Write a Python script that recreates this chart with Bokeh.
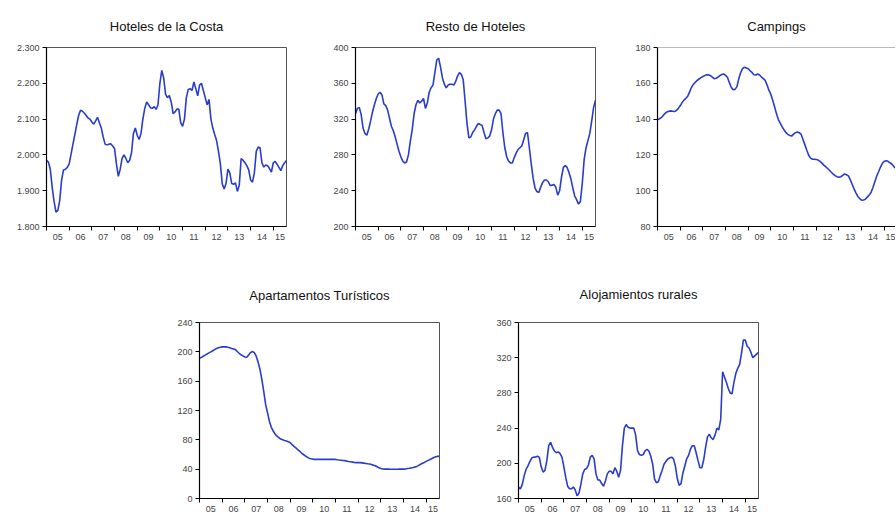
from bokeh.plotting import figure
from bokeh.layouts import column, row, Spacer
from bokeh.models import FixedTicker, Range1d, Span
from bokeh.embed import file_html
from bokeh.resources import INLINE

# ---------------- data (monthly, 2005-01 .. 2015-08) ----------------
start_year = 2005
year_ticks = [2005, 2006, 2007, 2008, 2009, 2010, 2011, 2012, 2013, 2014, 2015]
year_labels = ["05", "06", "07", "08", "09", "10", "11", "12", "13", "14", "15"]
label_pos = [2005.5, 2006.5, 2007.5, 2008.5, 2009.5, 2010.5, 2011.5, 2012.5,
             2013.5, 2014.5, 2015.3]

hoteles_costa = [
    1985, 1980, 1960, 1910, 1870, 1840, 1845, 1873, 1930, 1958, 1960, 1965,
    1975, 2002, 2030, 2057, 2085, 2110, 2125, 2122, 2117, 2110, 2103, 2100,
    2092, 2086, 2095, 2105, 2090, 2075, 2050, 2030, 2028, 2030, 2031, 2025,
    2018, 1975, 1940, 1960, 1990, 2000, 1990, 1978, 1985, 2006, 2060, 2075,
    2055, 2043, 2060, 2100, 2130, 2148, 2140, 2132, 2130, 2135, 2127, 2140,
    2200, 2236, 2215, 2170, 2160, 2166, 2148, 2115, 2120, 2128, 2128, 2090,
    2080, 2100, 2160, 2183, 2185, 2180, 2204, 2185, 2165, 2195, 2200, 2180,
    2160, 2140, 2155, 2100, 2075, 2057, 2040, 2010, 1975, 1919, 1905, 1920,
    1960, 1950, 1920, 1918, 1922, 1898, 1915, 1990, 1985, 1978, 1970, 1958,
    1930, 1924, 1950, 2010, 2022, 2020, 1978, 1966, 1972, 1970, 1962, 1952,
    1978, 1982, 1974, 1965, 1956, 1970, 1978, 1984]

resto_hoteles = [
    326, 332, 333, 325, 310, 304, 302, 309, 318, 328, 336, 343,
    348, 350, 347, 337, 335, 330, 321, 312, 307, 300, 292, 284,
    278, 273, 271, 272, 280, 295, 308, 326, 336, 341, 338, 340,
    343, 332, 338, 350, 355, 358, 372, 386, 388, 378, 366, 359,
    355, 358, 359, 359, 358, 362, 368, 372, 370, 364, 340, 315,
    299, 300, 305, 308, 312, 315, 314, 313, 305, 298, 299, 301,
    308, 320, 326, 330, 330, 326, 305, 288, 278, 273, 271, 271,
    277, 282, 286, 288, 290, 297, 304, 305, 288, 270, 254, 243,
    239, 238, 244, 249, 252, 252, 250, 246, 246, 247, 244, 235,
    240, 255, 266, 268, 266, 260, 253, 243, 234, 230, 225, 228,
    248, 275, 288, 296, 304, 318, 333, 341]

campings = [
    139.6, 140.2, 140.8, 142.0, 143.2, 144.0, 144.4, 144.6, 144.4, 144.2, 144.8, 146.0,
    147.4, 149.2, 150.6, 151.6, 152.8, 155.2, 157.8, 159.4, 160.6, 161.6, 162.4, 163.2,
    163.8, 164.3, 164.8, 164.7, 164.3, 163.4, 162.6, 162.8, 163.4, 164.3, 164.9, 165.2,
    164.4, 163.4, 160.5, 157.8, 156.4, 156.6, 158.0, 162.5, 166.0, 168.2, 169.0, 168.6,
    168.1, 167.0, 166.1, 164.8, 164.6, 165.2, 164.6, 163.5, 162.6, 161.6, 159.0, 156.0,
    153.8, 150.4, 146.8, 142.8, 139.6, 137.6, 135.6, 134.0, 132.4, 131.4, 130.9, 130.5,
    131.6, 132.4, 132.8, 132.4, 131.5, 128.6, 125.6, 122.6, 119.8, 118.2, 117.6, 117.6,
    117.4, 117.1, 116.4, 115.4, 114.3, 113.4, 112.4, 111.4, 110.3, 109.3, 108.4, 107.8,
    107.5, 107.8, 108.6, 109.4, 108.9, 108.3, 106.2, 103.6, 101.0, 98.8, 96.8, 95.6,
    94.7, 94.8, 95.2, 96.4, 97.6, 99.0, 101.8, 105.0, 108.2, 110.6, 113.2, 115.3,
    116.5, 116.7, 116.4, 115.6, 114.9, 113.6, 112.6, 112.0]

apartamentos = [
    191, 192.5, 194, 195.5, 197, 198.5, 200, 201.5, 203, 204.5, 205.5, 206.3,
    206.8, 207, 206.8, 206.2, 205.5, 204.6, 203.8, 203, 200.5, 198, 196, 194.5,
    193, 192.5, 195.5, 199, 200.5, 199, 194, 186, 176, 162, 146, 128,
    117, 105, 97, 92, 88, 85, 83, 81, 80, 79, 78.5, 77.5,
    76, 73.5, 71, 69, 66.5, 64.5, 62, 60, 58, 56.5, 55, 54.3,
    53.7, 53.3, 53.3, 53.3, 53.3, 53.3, 53.3, 53.3, 53.3, 53.3, 53.3, 53.3,
    53.3, 52.8, 52.4, 52.1, 51.8, 51.6, 51.0, 50.5, 50.1, 49.6, 49.1, 48.9,
    48.9, 48.9, 48.6, 48.2, 47.8, 47.4, 47.1, 46.3, 45.5, 44.6, 43.2, 41.8,
    40.8, 40.3, 40.0, 40.0, 40.0, 39.8, 39.8, 39.8, 39.8, 39.9, 40.0, 40.0,
    40.0, 40.3, 40.8, 41.2, 41.7, 42.2, 42.8, 43.8, 45.2, 46.6, 48.0, 49.2,
    50.6, 52.0, 53.3, 54.6, 56.0, 56.9, 57.4, 57.8]

rurales = [
    173, 171, 176, 186, 193, 197, 202, 206, 207, 207, 208, 207,
    196, 190, 192, 203, 220, 224, 218, 214, 212, 213, 211, 207,
    196, 184, 174, 171, 171, 173, 170, 163, 166, 176, 188, 193,
    194, 198, 207, 209, 205, 188, 181, 181, 177, 174, 180, 188,
    191, 191, 188, 195, 191, 184, 192, 220, 240, 244, 241, 240,
    240, 240, 232, 214, 210, 209, 210, 214, 216, 214, 208, 199,
    182, 178, 179, 186, 192, 199, 202, 205, 206, 207, 205, 197,
    183, 175, 177, 189, 197, 205, 209, 216, 220, 220, 212, 203,
    195, 195, 204, 218, 230, 233, 229, 227, 232, 240, 238, 250,
    304, 298, 292, 285, 280, 279, 292, 302, 308, 312, 325, 340,
    340, 333, 331, 326, 320, 322, 324, 326]

costa_ticks = [1800, 1900, 2000, 2100, 2200, 2300]
costa_labels = ["1.800", "1.900", "2.000", "2.100", "2.200", "2.300"]
resto_ticks = [200, 240, 280, 320, 360, 400]
camp_ticks = [80, 100, 120, 140, 160, 180]
apart_ticks = [0, 40, 80, 120, 160, 200, 240]
rural_ticks = [160, 200, 240, 280, 320, 360]

LINE = "#2a3ccc"
FONT = "Liberation Sans"
X_END = start_year + 127 / 12


def months(n):
    return [start_year + i / 12 for i in range(n)]


def panel(title, vals, yticks, ylabels, width, height, bl, br, bt, bb,
          x_end=X_END, cut_right=False, standoff=28):
    p = figure(width=width, height=height, title=title,
               x_range=Range1d(start_year, x_end),
               y_range=Range1d(yticks[0], yticks[-1]),
               output_backend="svg", toolbar_location=None,
               min_border_left=bl, min_border_right=br,
               min_border_top=bt, min_border_bottom=bb)
    p.line(months(len(vals)), vals, line_color=LINE, line_width=1.6)

    p.title.text_font = FONT
    p.title.text_font_size = "13px"
    p.title.text_font_style = "normal"
    p.title.text_color = "#111111"
    p.title.align = "center"
    p.title.standoff = standoff

    p.xgrid.visible = False
    p.ygrid.visible = False
    p.background_fill_color = "white"
    p.border_fill_color = "white"

    xa = p.below[0]
    xa.ticker = FixedTicker(ticks=[v for v in label_pos if v <= x_end],
                            minor_ticks=year_ticks)
    xa.major_label_overrides = {v: l for v, l in zip(label_pos, year_labels)}
    xa.major_tick_line_color = None
    xa.major_tick_in = 0
    xa.major_tick_out = 0
    xa.minor_tick_line_color = "black"
    xa.minor_tick_in = 0
    xa.minor_tick_out = 4
    xa.axis_line_color = "black"
    xa.axis_line_width = 1.2
    xa.major_label_text_font = FONT
    xa.major_label_text_font_size = "9px"
    xa.major_label_standoff = 3

    ya = p.left[0]
    ya.ticker = FixedTicker(ticks=yticks)
    ya.major_label_overrides = {t: l for t, l in zip(yticks, ylabels)}
    ya.minor_tick_line_color = None
    ya.major_tick_in = 0
    ya.major_tick_out = 4
    ya.major_tick_line_color = "black"
    ya.axis_line_color = "black"
    ya.axis_line_width = 1.2
    ya.major_label_text_font = FONT
    ya.major_label_text_font_size = "9px"
    ya.major_label_standoff = 3

    if cut_right:
        p.outline_line_color = None
        p.add_layout(Span(location=yticks[-1], dimension="width",
                          line_color="#777777", line_width=1))
    else:
        p.outline_line_color = "#555555"
        p.outline_line_width = 1
    return p


p1 = panel("Hoteles de la Costa", hoteles_costa, costa_ticks, costa_labels,
           315, 250, 46, 29, 45, 24)
p2 = panel("Resto de Hoteles", resto_hoteles, resto_ticks, [str(t) for t in resto_ticks],
           310, 250, 40, 30, 47, 22)
p3 = panel("Campings", campings, camp_ticks, [str(t) for t in camp_ticks],
           270, 250, 32, 0, 45, 23,
           x_end=start_year + 238 / 240 * (127 / 12), cut_right=True)

p4 = panel("Apartamentos Turísticos", apartamentos, apart_ticks,
           [str(t) for t in apart_ticks], 318, 264, 39, 39, 69, 16, standoff=40)
p5 = panel("Alojamientos rurales", rurales, rural_ticks, [str(t) for t in rural_ticks],
           300, 264, 40, 20, 72, 16, standoff=42)

layout = column(row(p1, p2, p3), row(Spacer(width=160, height=264), p4, p5))

open("out.html", "w").write(file_html(layout, INLINE))
